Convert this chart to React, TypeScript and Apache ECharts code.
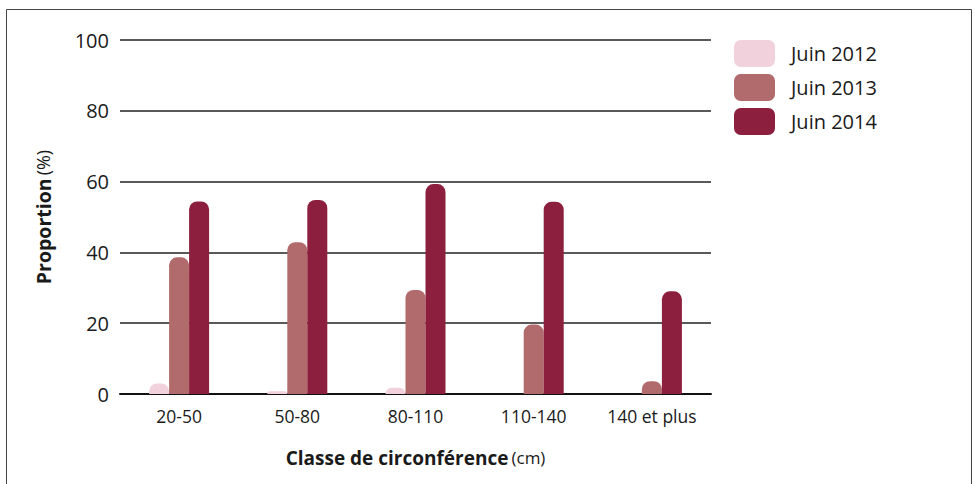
import React, { useEffect, useRef } from "react";
import * as echarts from "echarts";

const categories = ["20-50", "50-80", "80-110", "110-140", "140 et plus"];
const seriesNames = ["Juin 2012", "Juin 2013", "Juin 2014"];
const juin2012 = [3, 0.8, 1.8, 0, 0];
const juin2013 = [38.6, 42.9, 29.4, 19.6, 3.6];
const juin2014 = [54.4, 54.8, 59.3, 54.3, 29.0];
const colors = ["#f0d1dc", "#b16b6d", "#8c1f3d"];

const FONT = "'Open Sans', 'Noto Sans', sans-serif";

export default function App() {
  const ref = useRef<HTMLDivElement>(null);
  useEffect(() => {
    if (!ref.current) return;
    const chart = echarts.init(ref.current, null, { renderer: "svg" });
    const values = [juin2012, juin2013, juin2014];
    chart.setOption({
      animation: false,
      backgroundColor: "#ffffff",
      textStyle: { fontFamily: FONT, color: "#1a1a1a" },
      graphic: [
        {
          type: "rect",
          shape: { x: 6.5, y: 9.5, width: 965, height: 500 },
          style: { fill: "none", stroke: "#444", lineWidth: 1 },
          silent: true,
        },
      ],
      legend: {
        orient: "vertical",
        left: 734,
        top: 40,
        padding: 0,
        itemWidth: 41,
        itemHeight: 27,
        itemGap: 7,
        icon: "roundRect",
        data: seriesNames,
        textStyle: {
          fontFamily: FONT,
          fontSize: 20,
          color: "#1a1a1a",
          padding: [0, 0, 0, 11],
        },
      },
      grid: { left: 120, right: 264, top: 40, bottom: 90 },
      xAxis: {
        type: "category",
        data: categories,
        axisLine: { show: true, lineStyle: { color: "#111", width: 2 } },
        axisTick: { show: false },
        axisLabel: {
          interval: 0,
          hideOverlap: false,
          fontFamily: FONT,
          fontSize: 17.5,
          color: "#1a1a1a",
          margin: 13,
        },
        name: "{b|Classe de circonférence} {n|(cm)}",
        nameLocation: "middle",
        nameGap: 54,
        nameTextStyle: {
          rich: {
            b: { fontFamily: FONT, fontSize: 19, fontWeight: "bold", color: "#1a1a1a" },
            n: { fontFamily: FONT, fontSize: 17, color: "#1a1a1a" },
          },
        },
      },
      yAxis: {
        type: "value",
        min: 0,
        max: 100,
        interval: 20,
        axisLine: { show: false },
        axisTick: { show: false },
        axisLabel: { fontFamily: FONT, fontSize: 20, color: "#1a1a1a", margin: 11 },
        splitLine: { show: true, lineStyle: { color: "#222", width: 1.5 } },
        name: "{b|Proportion} {n|(%)}",
        nameLocation: "middle",
        nameGap: 67,
        nameRotate: 90,
        nameTextStyle: {
          rich: {
            b: { fontFamily: FONT, fontSize: 19.5, fontWeight: "bold", color: "#1a1a1a" },
            n: { fontFamily: FONT, fontSize: 18, color: "#1a1a1a" },
          },
        },
      },
      series: seriesNames.map((name, i) => ({
        name,
        type: "bar",
        data: values[i],
        barWidth: 20,
        barGap: "0%",
        itemStyle: { color: colors[i], borderRadius: [8, 8, 0, 0] },
        z: 3,
      })),
    });
    return () => chart.dispose();
  }, []);
  return (
    <div
      ref={ref}
      style={{ position: "fixed", left: 0, top: 0, width: 975, height: 484, background: "#fff" }}
    />
  );
}
